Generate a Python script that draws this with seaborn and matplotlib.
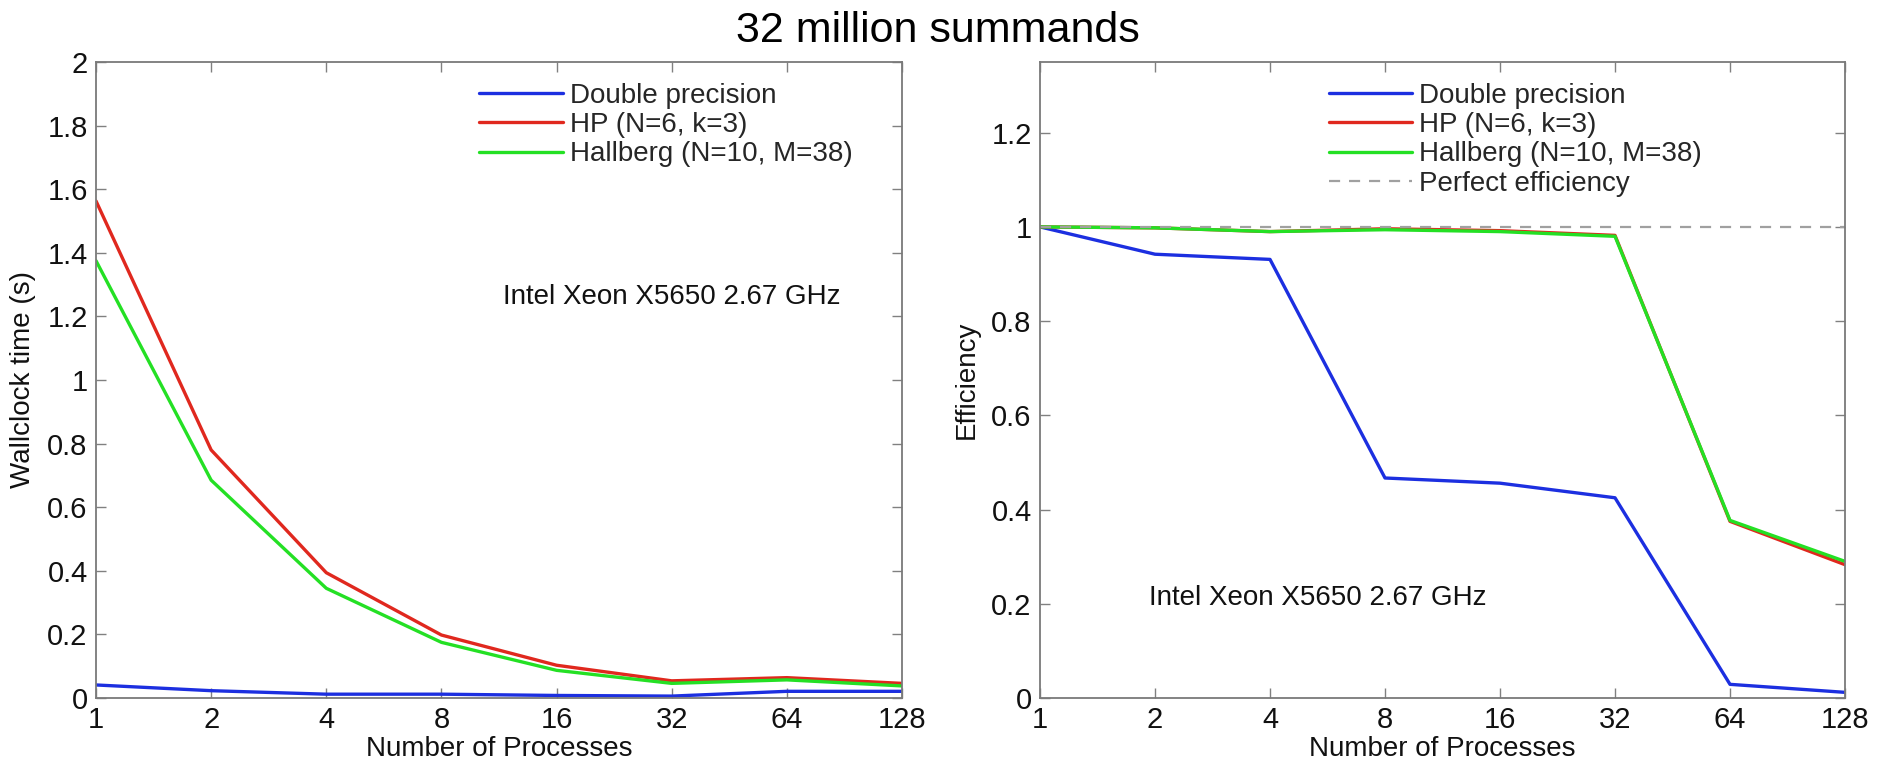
import numpy as np
import pandas as pd
import matplotlib
matplotlib.use("Agg")
import matplotlib.pyplot as plt
import seaborn as sns
from matplotlib.ticker import FixedLocator, FuncFormatter

sns.set_theme(style="white")
plt.rcParams['font.family'] = ['Liberation Sans', 'DejaVu Sans']

# ---- data ----
processes = [1, 2, 4, 8, 16, 32, 64, 128]
series_names = ["Double precision", "HP (N=6, k=3)", "Hallberg (N=10, M=38)"]

time_double = [0.041, 0.023, 0.012, 0.012, 0.008, 0.006, 0.021, 0.021]
time_hp = [1.563, 0.780, 0.394, 0.198, 0.103, 0.054, 0.064, 0.046]
time_hallberg = [1.375, 0.685, 0.345, 0.175, 0.087, 0.046, 0.057, 0.038]

eff_double = [1.0, 0.942, 0.931, 0.467, 0.456, 0.425, 0.029, 0.012]
eff_hp = [1.0, 0.998, 0.990, 0.996, 0.992, 0.982, 0.375, 0.283]
eff_hallberg = [1.0, 0.998, 0.990, 0.994, 0.990, 0.980, 0.377, 0.290]
perfect = [1, 1, 1, 1, 1, 1, 1, 1]

colors = ["#1c2fe0", "#e0281e", "#24e024"]
annotation = "Intel Xeon X5650 2.67 GHz"
title = "32 million summands"

fig = plt.figure(figsize=(18.83, 7.63), dpi=100)
W, H = 1883, 763
axL = fig.add_axes([96 / W, 1 - 698 / H, (902 - 96) / W, (698 - 62) / H])
axR = fig.add_axes([1040 / W, 1 - 698 / H, (1845 - 1040) / W, (698 - 62) / H])

lw = 2.4
for ax, ys in [(axL, [time_double, time_hp, time_hallberg]),
               (axR, [eff_double, eff_hp, eff_hallberg])]:
    for name, y, c in zip(series_names, ys, colors):
        df = pd.DataFrame({"p": processes, "v": y})
        sns.lineplot(data=df, x="p", y="v", ax=ax, color=c, lw=lw, label=name)

sns.lineplot(data=pd.DataFrame({"p": processes, "v": perfect}), x="p", y="v",
             ax=axR, color="#a0a0a0", lw=1.6, dashes=False, linestyle=(0, (5, 4)),
             label="Perfect efficiency")

tick_fs = 21
for ax in (axL, axR):
    ax.set_xscale("log", base=2)
    ax.set_xlim(1, 128)
    ax.xaxis.set_major_locator(FixedLocator(processes))
    ax.xaxis.set_major_formatter(FuncFormatter(lambda v, p: f"{int(round(v))}"))
    ax.xaxis.set_minor_locator(FixedLocator([]))
    ax.yaxis.set_major_formatter(FuncFormatter(lambda v, p: f"{v:g}"))
    ax.tick_params(direction="in", length=7, width=1, colors="#808080",
                   labelcolor="#111111", labelsize=tick_fs, top=True, right=True,
                   left=True, bottom=True, pad=6)
    for s in ax.spines.values():
        s.set_color("#7a7a7a")
        s.set_linewidth(1.3)
    ax.set_xlabel("Number of Processes", fontsize=20, color="#111111", labelpad=1)

axL.set_ylim(0, 2)
axL.yaxis.set_major_locator(FixedLocator(np.arange(0, 2.01, 0.2)))
axL.set_ylabel("Wallclock time (s)", fontsize=20, color="#111111", labelpad=8)
axR.set_ylim(0, 1.35)
axR.yaxis.set_major_locator(FixedLocator(np.arange(0, 1.21, 0.2)))
axR.set_ylabel("Efficiency", fontsize=20, color="#111111", labelpad=8)

legkw = dict(frameon=False, fontsize=20, handlelength=3.0, handletextpad=0.25,
             labelspacing=0.12, borderaxespad=0, loc="upper left")
axL.legend(bbox_to_anchor=(0.462, 0.985), **legkw)
axR.legend(bbox_to_anchor=(0.345, 0.985), **legkw)

axL.text(0.505, 0.63, annotation, transform=axL.transAxes, fontsize=20,
         color="#111111", va="center", ha="left")
axR.text(0.135, 0.157, annotation, transform=axR.transAxes, fontsize=20,
         color="#111111", va="center", ha="left")

fig.text(0.498, 0.96, title, fontsize=31, color="#000000", ha="center", va="center")

fig.savefig("out.png", dpi=100, facecolor="white")
